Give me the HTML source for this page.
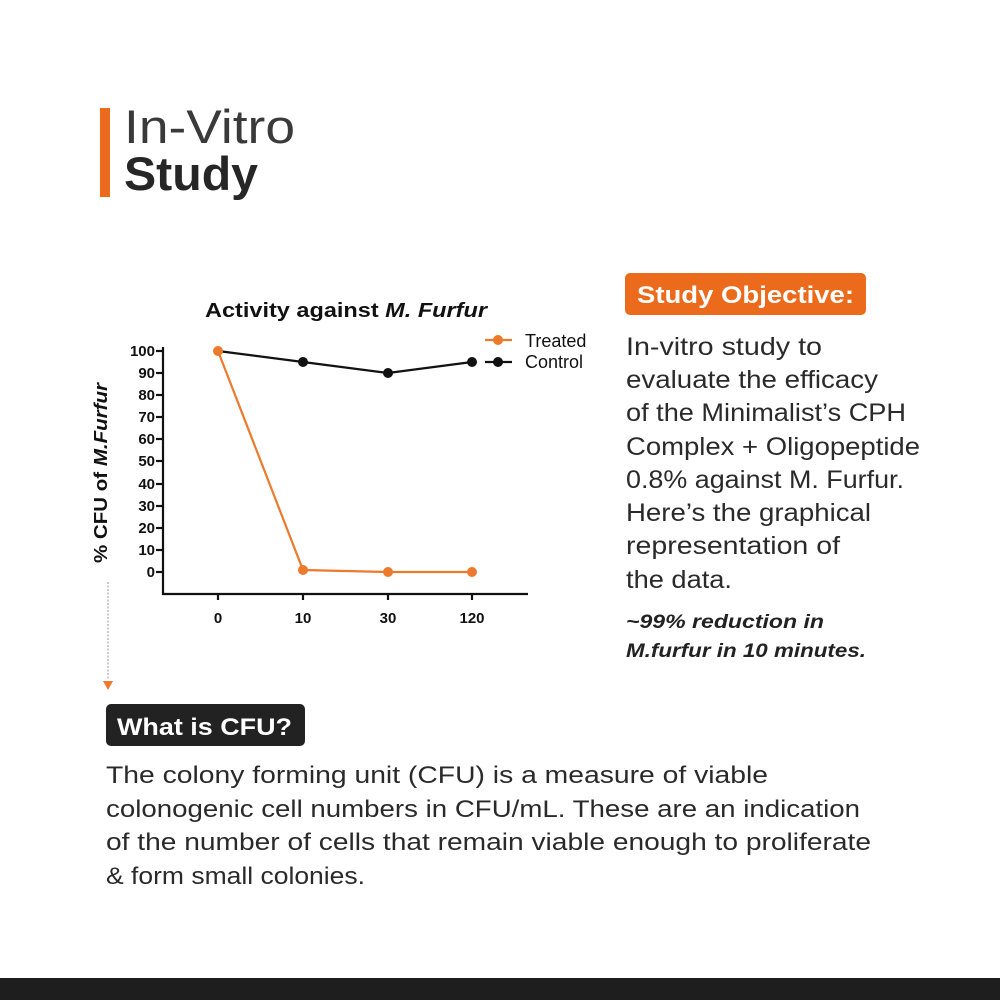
<!DOCTYPE html>
<html><head><meta charset="utf-8"><style>
html,body{margin:0;padding:0;background:#fff;}
svg{display:block;}
</style></head><body>
<svg width="1000" height="1000" viewBox="0 0 1000 1000" xmlns="http://www.w3.org/2000/svg" font-family="Liberation Sans, sans-serif">
<rect width="1000" height="1000" fill="#fff"/>
<!-- header -->
<rect x="100" y="108" width="10" height="89" fill="#ec6a1b"/>
<text x="124" y="143" font-size="47" fill="#3a3a3a" textLength="171" lengthAdjust="spacingAndGlyphs">In-Vitro</text>
<text x="124" y="190" font-size="47" font-weight="bold" fill="#262626" textLength="134" lengthAdjust="spacingAndGlyphs">Study</text>

<!-- chart -->
<text x="205" y="317" font-size="20" font-weight="bold" fill="#111" textLength="282" lengthAdjust="spacingAndGlyphs">Activity against <tspan font-style="italic">M. Furfur</tspan></text>
<g stroke="#111" stroke-width="2.2" fill="none">
<line x1="163" y1="347" x2="163" y2="595"/>
<line x1="162" y1="594" x2="528" y2="594"/>
<line x1="218" y1="594" x2="218" y2="600"/>
<line x1="303" y1="594" x2="303" y2="600"/>
<line x1="388" y1="594" x2="388" y2="600"/>
<line x1="472" y1="594" x2="472" y2="600"/>
<line x1="156" y1="351" x2="163" y2="351"/>
<line x1="156" y1="373" x2="163" y2="373"/>
<line x1="156" y1="395" x2="163" y2="395"/>
<line x1="156" y1="417" x2="163" y2="417"/>
<line x1="156" y1="439" x2="163" y2="439"/>
<line x1="156" y1="461" x2="163" y2="461"/>
<line x1="156" y1="484" x2="163" y2="484"/>
<line x1="156" y1="506" x2="163" y2="506"/>
<line x1="156" y1="528" x2="163" y2="528"/>
<line x1="156" y1="550" x2="163" y2="550"/>
<line x1="156" y1="572" x2="163" y2="572"/>
</g>
<g font-size="15" font-weight="bold" fill="#111" text-anchor="end">
<text x="155" y="356">100</text><text x="155" y="378">90</text><text x="155" y="400">80</text>
<text x="155" y="422">70</text><text x="155" y="444">60</text><text x="155" y="466">50</text>
<text x="155" y="489">40</text><text x="155" y="511">30</text><text x="155" y="533">20</text>
<text x="155" y="555">10</text><text x="155" y="577">0</text>
</g>
<g font-size="15" font-weight="bold" fill="#111" text-anchor="middle">
<text x="218" y="623">0</text><text x="303" y="623">10</text><text x="388" y="623">30</text><text x="472" y="623">120</text>
</g>
<text transform="translate(107,563) rotate(-90)" font-size="18" font-weight="bold" fill="#111" textLength="180" lengthAdjust="spacingAndGlyphs">% CFU of <tspan font-style="italic">M.Furfur</tspan></text>
<polyline points="218,351 303,362 388,373 472,362" fill="none" stroke="#111" stroke-width="2.2"/>
<polyline points="218,351 303,570 388,572 472,572" fill="none" stroke="#ec7a2c" stroke-width="2.2"/>
<g fill="#111"><circle cx="303" cy="362" r="5"/><circle cx="388" cy="373" r="5"/><circle cx="472" cy="362" r="5"/></g>
<g fill="#ec7a2c"><circle cx="218" cy="351" r="5"/><circle cx="303" cy="570" r="5"/><circle cx="388" cy="572" r="5"/><circle cx="472" cy="572" r="5"/></g>
<line x1="485" y1="340" x2="512" y2="340" stroke="#ec7a2c" stroke-width="2.2"/><circle cx="498" cy="340" r="5" fill="#ec7a2c"/>
<line x1="485" y1="362" x2="512" y2="362" stroke="#111" stroke-width="2.2"/><circle cx="498" cy="362" r="5" fill="#111"/>
<text x="525" y="347" font-size="18" fill="#111">Treated</text>
<text x="525" y="368" font-size="18" fill="#111">Control</text>
<line x1="108" y1="582" x2="108" y2="680" stroke="#999" stroke-width="1" stroke-dasharray="2,1.5"/>
<polygon points="103,681 113,681 108,690" fill="#ec7a2c"/>

<!-- objective -->
<rect x="625" y="273" width="241" height="42" rx="5" fill="#ec6a1b"/>
<text x="637" y="303" font-size="24" font-weight="bold" fill="#fff" textLength="217" lengthAdjust="spacingAndGlyphs">Study Objective:</text>
<g font-size="25" fill="#2a2a2a">
<text x="626" y="355" textLength="196" lengthAdjust="spacingAndGlyphs">In-vitro study to</text>
<text x="626" y="388" textLength="252" lengthAdjust="spacingAndGlyphs">evaluate the efficacy</text>
<text x="626" y="421" textLength="280" lengthAdjust="spacingAndGlyphs">of the Minimalist’s CPH</text>
<text x="626" y="455" textLength="294" lengthAdjust="spacingAndGlyphs">Complex + Oligopeptide</text>
<text x="626" y="488" textLength="278" lengthAdjust="spacingAndGlyphs">0.8% against M. Furfur.</text>
<text x="626" y="521" textLength="245" lengthAdjust="spacingAndGlyphs">Here’s the graphical</text>
<text x="626" y="554" textLength="214" lengthAdjust="spacingAndGlyphs">representation of</text>
<text x="626" y="588" textLength="106" lengthAdjust="spacingAndGlyphs">the data.</text>
</g>
<g font-size="19" font-weight="bold" font-style="italic" fill="#222">
<text x="626" y="628" textLength="198" lengthAdjust="spacingAndGlyphs">~99% reduction in</text>
<text x="626" y="657" textLength="240" lengthAdjust="spacingAndGlyphs">M.furfur in 10 minutes.</text>
</g>

<!-- CFU -->
<rect x="106" y="704" width="199" height="42" rx="5" fill="#222"/>
<text x="117" y="735" font-size="24" font-weight="bold" fill="#fff" textLength="175" lengthAdjust="spacingAndGlyphs">What is CFU?</text>
<g font-size="24" fill="#2a2a2a">
<text x="106" y="783" textLength="662" lengthAdjust="spacingAndGlyphs">The colony forming unit (CFU) is a measure of viable</text>
<text x="106" y="817" textLength="754" lengthAdjust="spacingAndGlyphs">colonogenic cell numbers in CFU/mL. These are an indication</text>
<text x="106" y="850" textLength="765" lengthAdjust="spacingAndGlyphs">of the number of cells that remain viable enough to proliferate</text>
<text x="106" y="884" textLength="259" lengthAdjust="spacingAndGlyphs">&amp; form small colonies.</text>
</g>
<rect x="0" y="978" width="1000" height="22" fill="#1e1e1e"/>
</svg>
</body></html>
